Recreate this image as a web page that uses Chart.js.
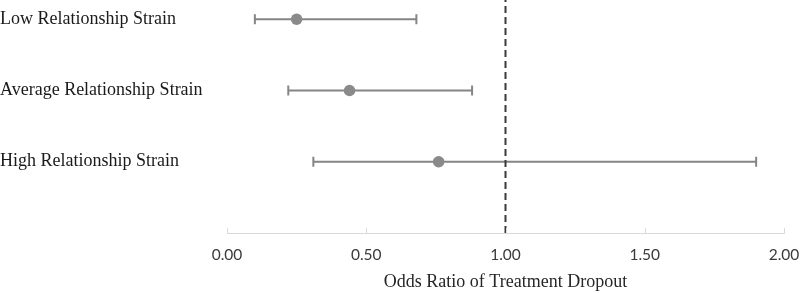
<!DOCTYPE html>
<html>
<head>
<meta charset="utf-8">
<script src="https://cdn.jsdelivr.net/npm/chart.js@4.4.1/dist/chart.umd.min.js"></script>
<style>
  html, body { margin: 0; padding: 0; background: #ffffff; }
  #wrap { width: 800px; height: 293px; position: relative; }
</style>
</head>
<body>
<div id="wrap"><canvas id="c"></canvas></div>
<script>
// ---- data ----
const categories = ["Low Relationship Strain", "Average Relationship Strain", "High Relationship Strain"];
const oddsRatios = [0.25, 0.44, 0.76];
const ciLow = [0.10, 0.22, 0.31];
const ciHigh = [0.68, 0.88, 1.90];
const xTicks = [0, 0.5, 1, 1.5, 2];
const referenceValue = 1.0;
const axisTitle = "Odds Ratio of Treatment Dropout";

const n = categories.length;
const rowPos = categories.map((c, i) => n - i);
const Y_MAX = 3.27;

const datasets = [];
// reference dashed line
datasets.push({
  type: 'line',
  data: [{x: referenceValue, y: 0}, {x: referenceValue, y: Y_MAX}],
  borderColor: '#3a3a3a',
  borderWidth: 2,
  borderDash: [7, 4],
  pointRadius: 0,
  order: 0
});
// whiskers (confidence intervals)
categories.forEach((c, i) => {
  datasets.push({
    type: 'line',
    data: [{x: ciLow[i], y: rowPos[i]}, {x: ciHigh[i], y: rowPos[i]}],
    borderColor: '#858585',
    borderWidth: 2,
    pointStyle: 'line',
    pointRotation: 90,
    pointRadius: 5,
    pointBorderColor: '#858585',
    pointBorderWidth: 2,
    order: 2
  });
});
// point estimates
datasets.push({
  type: 'scatter',
  data: categories.map((c, i) => ({x: oddsRatios[i], y: rowPos[i]})),
  backgroundColor: '#8a8a8a',
  borderWidth: 0,
  pointRadius: 5.8,
  order: 1
});

const upTicks = {
  id: 'upTicks',
  afterDatasetsDraw(chart) {
    const xs = chart.scales.x;
    const ctx = chart.ctx;
    ctx.save();
    ctx.strokeStyle = '#d9d9d9';
    ctx.lineWidth = 1;
    xs.ticks.forEach(t => {
      const px = Math.round(xs.getPixelForValue(t.value)) + 0.5;
      ctx.beginPath();
      ctx.moveTo(px, xs.top - 5);
      ctx.lineTo(px, xs.top);
      ctx.stroke();
    });
    ctx.restore();
  }
};

new Chart(document.getElementById('c'), {
  data: { datasets },
  plugins: [upTicks],
  options: {
    responsive: true,
    maintainAspectRatio: false,
    animation: false,
    layout: { padding: 0, autoPadding: false },
    plugins: { legend: { display: false }, tooltip: { enabled: false } },
    scales: {
      x: {
        type: 'linear',
        position: 'bottom',
        min: 0, max: 2,
        afterBuildTicks: s => { s.ticks = xTicks.map(v => ({value: v})); },
        ticks: {
          callback: v => Number(v).toFixed(2),
          font: { family: 'Lato', size: 15.5 },
          color: '#3a3a3a',
          padding: 13,
          maxRotation: 0
        },
        grid: { display: true, drawOnChartArea: false, drawTicks: false, color: '#d9d9d9' },
        border: { display: true, color: '#d9d9d9', width: 1 },
        title: {
          display: true,
          text: axisTitle,
          font: { family: '"Liberation Serif"', size: 18 },
          color: '#262626',
          padding: { top: 0, bottom: 0 }
        },
        afterFit: s => { s.height = 60; s.paddingRight = 16; }
      },
      y: {
        type: 'linear',
        position: 'left',
        min: 0, max: Y_MAX,
        afterBuildTicks: s => { s.ticks = rowPos.map(v => ({value: v})); },
        ticks: {
          callback: v => categories[n - v],
          font: { family: '"Liberation Serif"', size: 18 },
          color: '#1a1a1a',
          crossAlign: 'far',
          autoSkip: false
        },
        grid: { display: false },
        border: { display: false },
        afterFit: s => { s.width = 227; s.paddingTop = 0; s.paddingBottom = 0; }
      }
    }
  }
});
</script>
</body>
</html>
